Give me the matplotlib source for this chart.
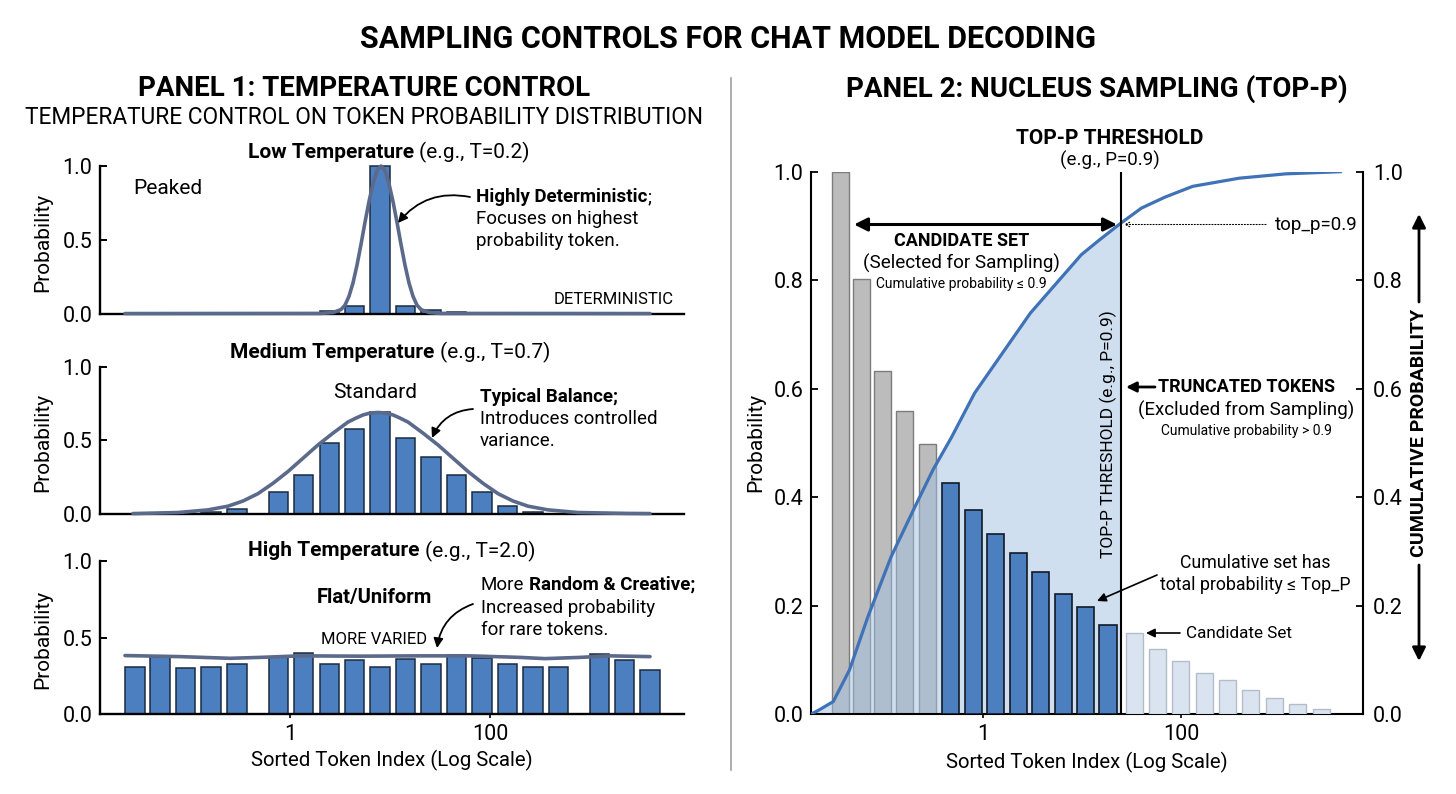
import matplotlib
matplotlib.use("Agg")
import matplotlib.pyplot as plt
from matplotlib.ticker import NullLocator

plt.rcParams['font.family'] = ['Roboto', 'DejaVu Sans']

# ---------------- data ----------------
# Panel 1 (temperature) - token positions given as log10(sorted token index)
low_idx_log10 = [0.135, 0.395, 0.645, 0.90, 1.155, 1.41, 1.665]
low_prob = [0.008, 0.022, 0.056, 1.0, 0.056, 0.027, 0.014]
low_curve_log10 = [-1.65, 0.31, 0.43, 0.51, 0.55, 0.59, 0.63, 0.67, 0.71, 0.75, 0.79, 0.83, 0.87,
                   0.91, 0.95, 0.99, 1.03, 1.07, 1.11, 1.15, 1.19, 1.23, 1.27, 1.31, 1.39, 1.51, 3.60]
low_curve_prob = [0.003, 0.004, 0.01, 0.03, 0.06, 0.12, 0.21, 0.33, 0.47, 0.62, 0.76, 0.88, 0.97,
                  1.0, 0.97, 0.88, 0.76, 0.62, 0.47, 0.33, 0.21, 0.12, 0.06, 0.03, 0.01, 0.004, 0.003]

med_idx_log10 = [-1.045, -0.79, -0.53, -0.115, 0.135, 0.395, 0.645, 0.90, 1.155, 1.41, 1.665,
                 1.92, 2.175, 2.43, 2.685]
med_prob = [0.007, 0.016, 0.036, 0.153, 0.264, 0.48, 0.58, 0.695, 0.52, 0.39, 0.266, 0.15,
            0.056, 0.016, 0.005]
med_curve_log10 = [-1.57, -1.12, -0.82, -0.62, -0.47, -0.32, -0.17, -0.02, 0.13, 0.28, 0.43, 0.58,
                   0.66, 0.73, 0.80, 0.88, 0.96, 1.03, 1.10, 1.18, 1.33, 1.48, 1.63, 1.78, 1.93,
                   2.08, 2.23, 2.38, 2.58, 2.88, 3.38, 3.60]
med_curve_prob = [0.005, 0.012, 0.03, 0.055, 0.09, 0.14, 0.21, 0.29, 0.38, 0.47, 0.55, 0.625,
                  0.652, 0.673, 0.686, 0.69, 0.686, 0.673, 0.652, 0.625, 0.55, 0.47, 0.38, 0.29,
                  0.21, 0.14, 0.09, 0.055, 0.03, 0.012, 0.006, 0.005]

high_idx_log10 = [-1.55, -1.30, -1.045, -0.79, -0.53, -0.115, 0.135, 0.395, 0.645, 0.90, 1.155,
                  1.41, 1.665, 1.92, 2.175, 2.43, 2.685, 3.095, 3.345, 3.60]
high_prob = [0.31, 0.37, 0.30, 0.31, 0.33, 0.37, 0.40, 0.325, 0.35, 0.31, 0.36, 0.33, 0.385,
             0.365, 0.33, 0.31, 0.31, 0.39, 0.355, 0.29]
high_curve_log10 = [-1.65, -1.10, -0.60, -0.30, 0.10, 0.70, 1.30, 1.80, 2.30, 2.55, 2.90, 3.20, 3.60]
high_curve_prob = [0.382, 0.375, 0.364, 0.37, 0.38, 0.378, 0.38, 0.38, 0.37, 0.362, 0.37, 0.38, 0.375]

# Panel 2 (nucleus sampling)
nuc_idx_log10 = [-1.443, -1.227, -1.014, -0.794, -0.563, -0.328, -0.098, 0.126, 0.356, 0.581,
                 0.810, 1.035, 1.262, 1.527, 1.761, 1.998, 2.234, 2.471, 2.703, 2.944, 3.176, 3.414]
nuc_prob = [1.0, 0.802, 0.633, 0.558, 0.497, 0.426, 0.376, 0.331, 0.297, 0.261, 0.222, 0.197,
            0.165, 0.149, 0.119, 0.097, 0.076, 0.062, 0.044, 0.030, 0.018, 0.009]
nuc_group = ['head'] * 5 + ['candidate'] * 8 + ['truncated'] * 9
cum_idx_log10 = [-1.733, -1.65, -1.512, -1.349, -1.161, -0.928, -0.693, -0.506, -0.319, -0.084,
                 0.244, 0.477, 0.711, 0.993, 1.181, 1.391, 1.601, 1.836, 2.117, 2.586, 3.054, 3.607]
cum_prob = [0.0, 0.008, 0.023, 0.081, 0.18, 0.29, 0.38, 0.45, 0.51, 0.592, 0.678, 0.739, 0.788,
            0.847, 0.875, 0.905, 0.933, 0.953, 0.973, 0.988, 0.996, 1.0]
top_p = 0.9
threshold_log10 = 1.391

x_ticks = [1, 100]
x_tick_labels = ['1', '100']

# ---------------- figure ----------------
W, H = 1456, 794
fig = plt.figure(figsize=(W / 100, H / 100), dpi=100)
fig.patch.set_facecolor('white')

BAR_BLUE = '#4b7fbf'
CURVE = '#5b6a8a'


def add_ax(l, t, r, b):
    return fig.add_axes([l / W, 1 - b / H, (r - l) / W, (b - t) / H])


def T(x, y, s, size, weight='normal', ha='center', va='center', **kw):
    return fig.text(x / W, 1 - y / H, s, fontsize=size, fontweight=weight, ha=ha, va=va, **kw)


def mixed(x, y, parts, size, ha='center'):
    r = fig.canvas.get_renderer()
    gap = 0.25 * size * 100 / 72
    items, total = [], 0
    for s, wgt in parts:
        lead = s.startswith(' ')
        t = fig.text(0, 1 - y / H, s.strip(), fontsize=size, fontweight=wgt, ha='left', va='center')
        w = t.get_window_extent(r).width
        items.append((t, w, lead))
        total += w + (gap if lead else 0)
    cur = x - total / 2 if ha == 'center' else x
    for t, w, lead in items:
        if lead:
            cur += gap
        t.set_x(cur / W)
        cur += w


def arrow(x0, y0, x1, y1, style='-|>', lw=1.3, ms=14, rad=0.0, ls='-'):
    fig.add_artist(matplotlib.patches.FancyArrowPatch(
        (x0 / W, 1 - y0 / H), (x1 / W, 1 - y1 / H), transform=fig.transFigure,
        arrowstyle=style, mutation_scale=ms, lw=lw, color='black', linestyle=ls,
        connectionstyle=f'arc3,rad={rad}', shrinkA=0, shrinkB=0))


def log_bars(ax, pos, heights, wdec, **kw):
    lefts = [10 ** (p - wdec / 2) for p in pos]
    widths = [10 ** (p + wdec / 2) - 10 ** (p - wdec / 2) for p in pos]
    return ax.bar(lefts, heights, width=widths, align='edge', **kw)


# titles
T(728, 39, 'SAMPLING CONTROLS FOR CHAT MODEL DECODING', 22, 'bold')
T(364, 89, 'PANEL 1: TEMPERATURE CONTROL', 20, 'bold')
T(364, 118, 'TEMPERATURE CONTROL ON TOKEN PROBABILITY DISTRIBUTION', 16.3)
T(1097, 89, 'PANEL 2: NUCLEUS SAMPLING (TOP-P)', 20, 'bold')
fig.add_artist(plt.Line2D([731 / W, 731 / W], [1 - 78 / H, 1 - 770 / H], color='#a0a0a0', lw=1.2,
                          transform=fig.transFigure))

# ---------------- left panels ----------------
panel_boxes = [(166, 314), (366.7, 514.3), (561, 714)]
bar_sets = [(low_idx_log10, low_prob, low_curve_log10, low_curve_prob),
            (med_idx_log10, med_prob, med_curve_log10, med_curve_prob),
            (high_idx_log10, high_prob, high_curve_log10, high_curve_prob)]
left_axes = []
for i, ((top, bot), (bx, by, cx, cy)) in enumerate(zip(panel_boxes, bar_sets)):
    ax = add_ax(100, top, 684, bot)
    left_axes.append(ax)
    ax.set_xscale('log')
    ax.set_xlim(10 ** -1.9, 10 ** 3.94)
    ax.set_ylim(0, 1.0)
    log_bars(ax, bx, by, 0.195, color=BAR_BLUE, edgecolor='#1c2b40', linewidth=1.1, zorder=2,
             clip_on=False)
    ax.plot([10 ** v for v in cx], cy, color=CURVE, lw=2.6, zorder=3, solid_capstyle='round',
            solid_joinstyle='round', clip_on=False)
    for s in ['top', 'right']:
        ax.spines[s].set_visible(False)
    for s in ['left', 'bottom']:
        ax.spines[s].set_linewidth(1.7)
    ax.set_yticks([0, 0.5, 1.0])
    ax.set_yticklabels(['0.0', '0.5', '1.0'])
    ax.tick_params(axis='y', direction='in', length=5, width=1.4, labelsize=15.5, pad=5.5)
    ax.xaxis.set_minor_locator(NullLocator())
    if i < 2:
        ax.tick_params(axis='x', which='both', bottom=False, labelbottom=False)
    else:
        ax.set_xticks(x_ticks)
        ax.set_xticklabels(x_tick_labels)
        ax.tick_params(axis='x', direction='out', length=3, width=1.2, labelsize=15.5, pad=4)
    ax.patch.set_alpha(0)
    T(43, (top + bot) / 2 + 2, 'Probability', 15, rotation=90)

T(391.5, 760, 'Sorted Token Index (Log Scale)', 14.7)

# panel 1 annotations
mixed(389, 152, [('Low Temperature', 'bold'), (' (e.g., T=0.2)', 'normal')], 15)
T(133, 188, 'Peaked', 15, ha='left')
mixed(476, 197, [('Highly Deterministic', 'bold'), (';', 'normal')], 13.5, ha='left')
T(476, 219, 'Focuses on highest', 13.5, ha='left')
T(476, 241, 'probability token.', 13.5, ha='left')
T(674, 299, 'DETERMINISTIC', 12, ha='right')
arrow(470, 197, 398, 223, rad=0.3)

# panel 2 annotations
mixed(390, 352, [('Medium Temperature', 'bold'), (' (e.g., T=0.7)', 'normal')], 15)
T(375.5, 392, 'Standard', 15)
T(480, 397, 'Typical Balance;', 13.5, 'bold', ha='left')
T(480, 419, 'Introduces controlled', 13.5, ha='left')
T(480, 441, 'variance.', 13.5, ha='left')
arrow(473, 409, 432, 438, rad=0.3)

# panel 3 annotations
mixed(391.5, 551, [('High Temperature', 'bold'), (' (e.g., T=2.0)', 'normal')], 15)
T(374, 597, 'Flat/Uniform', 14.6, 'bold')
mixed(481, 585, [('More', 'normal'), (' Random & Creative;', 'bold')], 13.5, ha='left')
T(481, 608, 'Increased probability', 13.5, ha='left')
T(481, 630, 'for rare tokens.', 13.5, ha='left')
T(374, 639, 'MORE VARIED', 12)
arrow(473, 604, 437, 648, rad=0.3)

# ---------------- right panel ----------------
axr = add_ax(811, 171.7, 1363, 714)
axr.set_xscale('log')
axr.set_xlim(10 ** -1.737, 10 ** 3.837)
axr.set_ylim(0, 1.0)
styles = {'head': dict(color='#bcbcbc', edgecolor='#7c7c7c', linewidth=1.0, zorder=1),
          'candidate': dict(color=BAR_BLUE, edgecolor='#121a26', linewidth=1.2, zorder=3),
          'truncated': dict(color='#dae4f1', edgecolor='#b3bdca', linewidth=1.0, zorder=3)}
for g, st in styles.items():
    px_ = [p for p, gg in zip(nuc_idx_log10, nuc_group) if gg == g]
    hy_ = [h for h, gg in zip(nuc_prob, nuc_group) if gg == g]
    log_bars(axr, px_, hy_, 0.172, **st)

cx = [10 ** v for v in cum_idx_log10]
fx = [10 ** v for v in cum_idx_log10 if v <= threshold_log10 + 1e-9]
fy = cum_prob[:len(fx)]
axr.fill_between(fx, 0, fy, color='#a3c0e2', alpha=0.5, zorder=2, linewidth=0)
axr.plot(cx, cum_prob, color='#3f72b6', lw=2.3, zorder=4, solid_joinstyle='round')
axr.plot([10 ** threshold_log10] * 2, [0, 1.0], color='black', lw=1.5, zorder=5)

for s in ['top', 'right']:
    axr.spines[s].set_visible(False)
for s in ['left', 'bottom']:
    axr.spines[s].set_linewidth(1.5)
axr.set_yticks([0, 0.2, 0.4, 0.6, 0.8, 1.0])
axr.set_yticklabels(['0.0', '0.2', '0.4', '0.6', '0.8', '1.0'])
axr.tick_params(axis='y', direction='in', length=5, width=1.3, labelsize=15.5, pad=5.5)
axr.xaxis.set_minor_locator(NullLocator())
axr.set_xticks(x_ticks)
axr.set_xticklabels(x_tick_labels)
axr.tick_params(axis='x', direction='out', length=3, width=1.2, labelsize=15.5, pad=4)
axr.patch.set_alpha(0)

ax2 = axr.twinx()
ax2.set_ylim(0, 1.0)
for s in ['top', 'left', 'bottom']:
    ax2.spines[s].set_visible(False)
ax2.spines['right'].set_linewidth(1.5)
ax2.set_yticks([0, 0.2, 0.4, 0.6, 0.8, 1.0])
ax2.set_yticklabels(['0.0', '0.2', '0.4', '0.6', '0.8', '1.0'])
ax2.tick_params(axis='y', direction='in', length=5, width=1.3, labelsize=15.5, pad=7)

T(756, 442, 'Probability', 15, rotation=90)
T(1086.5, 762, 'Sorted Token Index (Log Scale)', 14.7)

T(1110, 138, 'TOP-P THRESHOLD', 15, 'bold')
T(1110, 160, '(e.g., P=0.9)', 13.5)
arrow(854, 224.5, 1117, 224.5, style='<|-|>', lw=2.2, ms=20)
T(961.5, 241, 'CANDIDATE SET', 13, 'bold')
T(961, 263, '(Selected for Sampling)', 13.6)
T(961.5, 284, 'Cumulative probability \u2264 0.9', 10)
arrow(1266, 224.5, 1124, 224.5, style='->', lw=0.8, ms=8, ls=':')
T(1358, 225, 'top_p=0.9', 13.5, ha='right')
T(1108, 434, 'TOP-P THRESHOLD (e.g., P=0.9)', 12.5, rotation=90)
arrow(1155, 387, 1126, 387, lw=2.0, ms=15)
T(1158, 387, 'TRUNCATED TOKENS', 13, 'bold', ha='left')
T(1246.5, 410, '(Excluded from Sampling)', 13.5)
T(1246.5, 431, 'Cumulative probability > 0.9', 10)
T(1255.5, 563, 'Cumulative set has', 12.8)
T(1255.5, 585, 'total probability \u2264 Top_P', 12.8)
arrow(1157, 575, 1097, 601, lw=1.2, ms=13)
arrow(1180, 633, 1146, 633, lw=1.2, ms=13)
T(1186, 633, 'Candidate Set', 12.3, ha='left')
T(1419, 433, 'CUMULATIVE PROBABILITY', 14, 'bold', rotation=90)
arrow(1419, 302, 1419, 214, lw=2.0, ms=20)
arrow(1419, 565, 1419, 661, lw=2.0, ms=20)

fig.savefig('out.png', dpi=100, facecolor='white')
